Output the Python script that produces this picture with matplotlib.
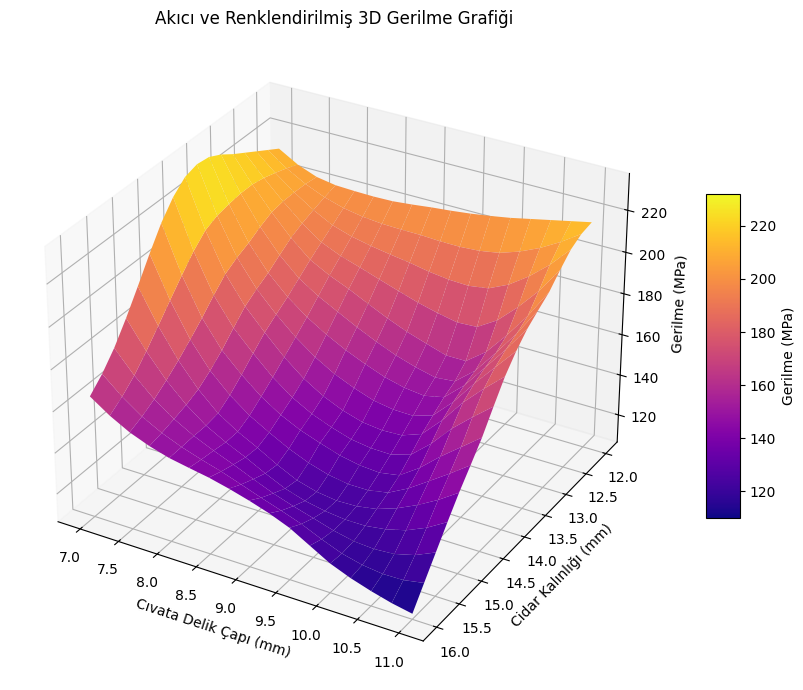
import numpy as np
import matplotlib
matplotlib.use("Agg")
import matplotlib.pyplot as plt

hole = [7.0,7.25,7.5,7.75,8.0,8.25,8.5,8.75,9.0,9.25,9.5,9.75,10.0,10.25,10.5,10.75,11.0]
thickness = [12.0,12.25,12.5,12.75,13.0,13.25,13.5,13.75,14.0,14.25,14.5,14.75,15.0,15.25,15.5,15.75,16.0]
stress = [
 [214,208.6,205,203.4,203,202.8,203,203.9,205,205.9,207,208.4,210,212,214,216,218],
 [217.5,211,205.8,201.8,199,197.3,196.4,196.1,196,195.5,195.4,196,197.6,200.8,205.1,210.5,216.9],
 [221,213,206,199.9,195,192,190,188.4,187,185.2,184,183.6,185,189.4,196,204.1,214],
 [224.5,214.8,205.9,197.8,191.1,187,184,180.8,177.7,174.7,172.3,170.4,170.9,176.8,185.8,196.2,208.8],
 [228,215.9,205,195.1,187,182,178,173.4,169,165.1,162,159,159,166.2,177,189,203],
 [232,215.9,202.3,191.2,182.5,176.4,171.5,166.6,162.2,158.3,155.3,153,153.9,161.9,173.3,185.4,199.1],
 [235,215.1,199,187.1,178,170.8,165,160.1,156,152.4,150,148.9,151,159.6,171,182.5,195],
 [235.8,213.9,196.4,183.8,174.1,165.7,158.7,153.2,149.1,145.8,144.2,144,147.1,156.5,168.1,178.7,189.2],
 [234,211.3,193,180,170,160.7,153,147.2,143,140.1,139,139.4,143,152.6,164,173.4,182],
 [228.8,205.8,187.3,174.2,164.6,155.7,148.6,143.4,139.7,136.7,135.3,135.1,137.9,146.2,156.4,164.8,172.7],
 [221,198.8,181,168.1,159,151.1,145,140.4,137,133.9,132,131.3,133,139.6,148,155.5,163],
 [210.9,191.4,175.3,163,153.9,146.8,141.4,136.4,132.4,129.5,127.9,127.9,129.7,134.8,141.3,147.9,154.9],
 [200,183.8,170,158.8,150,143.9,139,133.6,129,126.3,125,125.3,127,130.4,135,140.5,147],
 [189.5,176.4,165.2,156.2,149,143.8,139.4,134.5,130.1,127.1,125.2,124.1,124.1,125.5,128.1,132.4,138.2],
 [180,169.6,161,154.3,149,144.8,141,136.9,133,129.8,127,124.1,122,121.3,122,124.6,129],
 [172.4,164.3,157.6,152.6,148.7,145.6,142.8,139.5,136.1,132.9,129.5,125.2,121.4,119,117.8,118,119.8],
 [166.5,160.1,155,151.3,148.5,146.7,145,142.7,140,136.9,133,127.5,122,118.1,115,112.4,110.5],
]
reading_offset = -1.5
color_range = (110, 232)
z_range = (106.3, 237.3)

fig = plt.figure(figsize=(8.04,6.90), dpi=100)
ax = fig.add_axes([9/804, 1-682/690, 650/804, 650/690], projection='3d')
X,Y = np.meshgrid(hole, thickness)
Z = np.array(stress, float) + reading_offset
s = ax.plot_surface(X,Y,Z,cmap='plasma',rstride=1,cstride=1,edgecolor='none',
                    vmin=color_range[0],vmax=color_range[1])
ax.invert_yaxis()
ax.set_zlim(*z_range)
ax.set_xlabel('Cıvata Delik Çapı (mm)')
ax.set_ylabel('Cidar Kalınlığı (mm)')
ax.set_zlabel('Gerilme (MPa)')
ax.set_title('Akıcı ve Renklendirilmiş 3D Gerilme Grafiği')
cax = fig.add_axes([706/804, 1-518/690, 34/804, 324/690])
fig.colorbar(s, cax=cax, label='Gerilme (MPa)')
fig.savefig('out.png', dpi=100)
